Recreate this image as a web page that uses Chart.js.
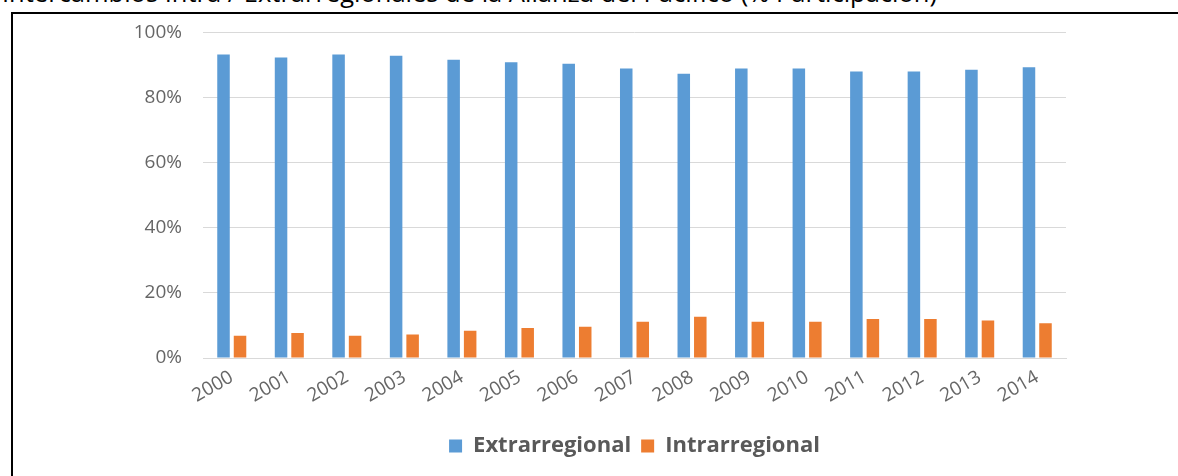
<!DOCTYPE html>
<html lang="es">
<head>
<meta charset="utf-8">
<script src="https://cdn.jsdelivr.net/npm/chart.js@4/dist/chart.umd.min.js"></script>
<style>
  html, body { margin: 0; padding: 0; background: #fff; }
  body { width: 1178px; height: 476px; position: relative; overflow: hidden; font-family: "Open Sans", sans-serif; }
  #title { position: absolute; left: 2px; top: -20px; font-size: 25.5px; line-height: 25px; color: #000; white-space: nowrap; }
  #frame { position: absolute; left: 11px; top: 12px; width: 1200px; height: 500px; border-left: 2px solid #000; border-top: 2px solid #000; }
  #wrap { position: absolute; left: 0; top: 0; width: 1178px; height: 476px; }
</style>
</head>
<body>
<div id="title">Intercambios Intra / Extrarregionales de la Alianza del Pacífico (% Participación)</div>
<div id="frame"></div>
<div id="wrap"><canvas id="chart" width="1178" height="476"></canvas></div>
<script>
// Años y participación (%) del comercio de la Alianza del Pacífico
const years = ['2000','2001','2002','2003','2004','2005','2006','2007','2008','2009','2010','2011','2012','2013','2014'];
const extrarregional = [93.2, 92.3, 93.2, 92.8, 91.6, 90.8, 90.4, 88.9, 87.3, 88.9, 88.9, 88.0, 88.0, 88.5, 89.3];
const intrarregional = [6.8, 7.7, 6.8, 7.2, 8.4, 9.2, 9.6, 11.1, 12.7, 11.1, 11.1, 12.0, 12.0, 11.5, 10.7];
const yTicks = [0, 20, 40, 60, 80, 100];

const axisGrey = '#666666';
const gridGrey = '#d9d9d9';

new Chart(document.getElementById('chart'), {
  type: 'bar',
  data: {
    labels: years,
    datasets: [
      { label: 'Extrarregional', data: extrarregional, backgroundColor: '#5B9BD5',
        categoryPercentage: 0.574, barPercentage: 0.758 },
      { label: 'Intrarregional', data: intrarregional, backgroundColor: '#ED7D31',
        categoryPercentage: 0.574, barPercentage: 0.758 }
    ]
  },
  options: {
    responsive: false,
    animation: false,
    layout: { padding: { left: 110, right: 112, top: 32, bottom: 9 } },
    plugins: {
      tooltip: { enabled: false },
      legend: {
        position: 'bottom',
        fullSize: false,
        labels: {
          boxWidth: 13, boxHeight: 13, padding: 10,
          color: '#595959',
          font: { family: '"Open Sans", sans-serif', size: 22, weight: 'bold' }
        }
      }
    },
    scales: {
      x: {
        grid: { display: false, drawTicks: false },
        border: { display: true, color: gridGrey, width: 1 },
        ticks: {
          color: axisGrey, minRotation: 30, maxRotation: 30, padding: 8,
          font: { family: '"Open Sans", sans-serif', size: 19 }
        },
        afterFit: s => { s.height = 67; }
      },
      y: {
        min: 0, max: 100,
        afterBuildTicks: s => { s.ticks = yTicks.map(v => ({ value: v })); },
        grid: { color: gridGrey, lineWidth: 1, drawTicks: false },
        border: { display: false },
        ticks: {
          color: axisGrey, padding: 21,
          font: { family: '"Open Sans", sans-serif', size: 19 },
          callback: v => v + '%'
        },
        afterFit: s => { s.width = 93; }
      }
    }
  }
});
</script>
</body>
</html>
